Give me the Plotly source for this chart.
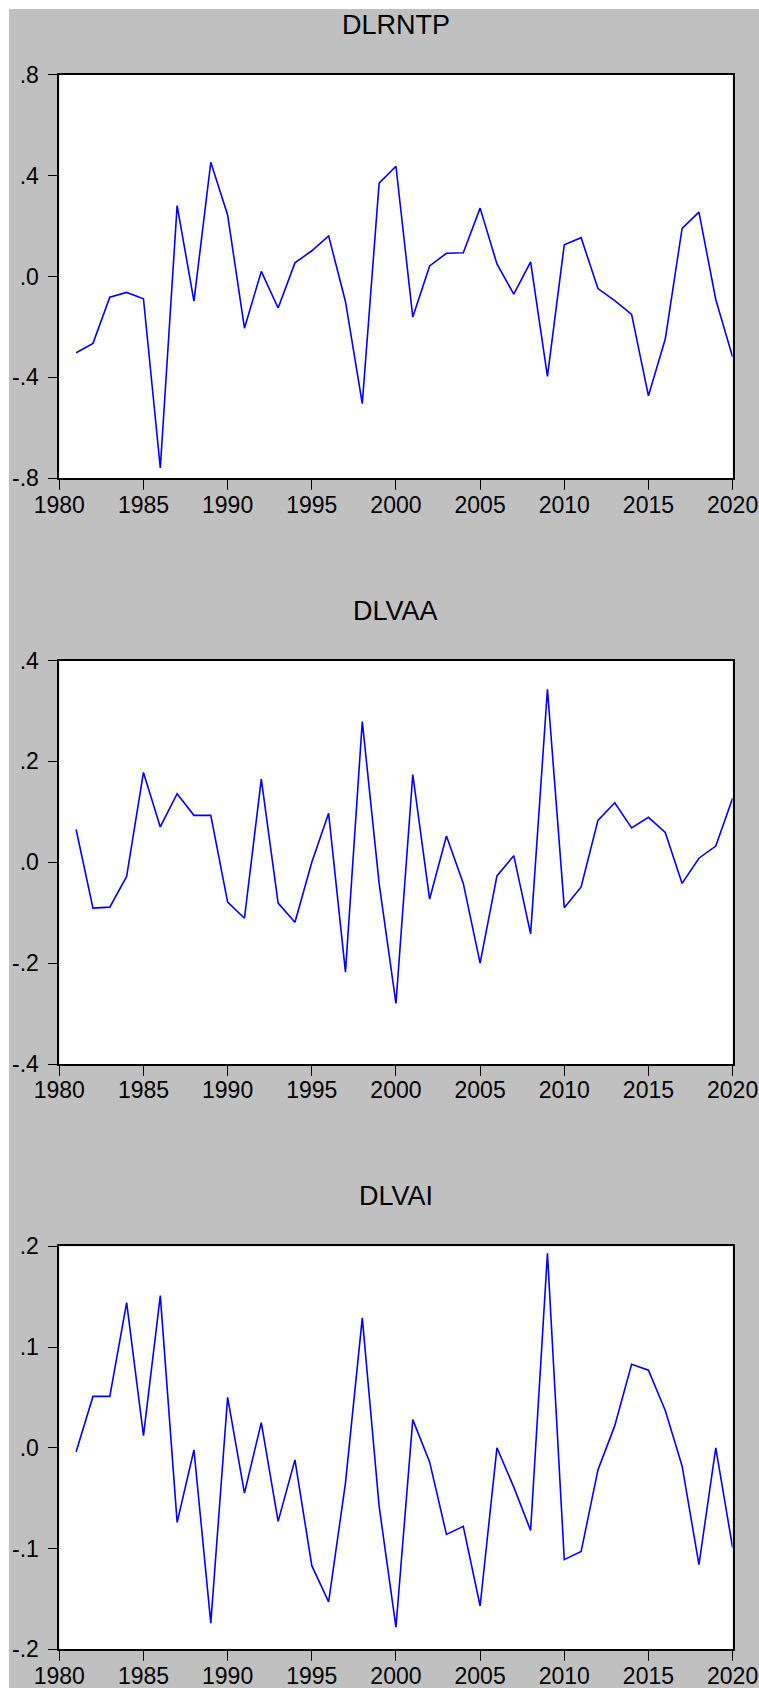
import plotly.graph_objects as go

W, H = 759, 1688

years = list(range(1981, 2021))

dlrntp = [-0.302, -0.265, -0.082, -0.063, -0.088, -0.759, 0.281, -0.098, 0.453, 0.244,
          -0.205, 0.020, -0.125, 0.054, 0.102, 0.161, -0.099, -0.504, 0.370, 0.437,
          -0.161, 0.042, 0.092, 0.094, 0.271, 0.050, -0.070, 0.058, -0.396, 0.126,
          0.154, -0.048, -0.096, -0.150, -0.473, -0.248, 0.191, 0.255, -0.091, -0.319]

dlvaa = [0.065, -0.091, -0.089, -0.028, 0.178, 0.070, 0.136, 0.093, 0.093, -0.079,
         -0.111, 0.165, -0.081, -0.119, 0.000, 0.097, -0.218, 0.279, -0.042, -0.280,
         0.174, -0.073, 0.052, -0.042, -0.200, -0.027, 0.013, -0.142, 0.343, -0.090,
         -0.049, 0.083, 0.118, 0.068, 0.089, 0.059, -0.042, 0.008, 0.032, 0.127]

dlvai = [-0.004, 0.051, 0.051, 0.144, 0.012, 0.151, -0.074, -0.002, -0.174, 0.050,
         -0.045, 0.025, -0.073, -0.012, -0.117, -0.153, -0.035, 0.129, -0.058, -0.178,
         0.028, -0.014, -0.086, -0.078, -0.157, 0.000, -0.039, -0.082, 0.193, -0.111,
         -0.103, -0.022, 0.022, 0.083, 0.077, 0.037, -0.018, -0.116, 0.000, -0.099]

titles = ["DLRNTP", "DLVAA", "DLVAI"]

x_tickvals = [1980, 1985, 1990, 1995, 2000, 2005, 2010, 2015, 2020]
x_ticktext = ["1980", "1985", "1990", "1995", "2000", "2005", "2010", "2015", "2020"]

y1_tickvals = [-0.8, -0.4, 0.0, 0.4, 0.8]
y1_ticktext = ["-.8", "-.4", ".0", ".4", ".8"]
y2_tickvals = [-0.4, -0.2, 0.0, 0.2, 0.4]
y2_ticktext = ["-.4", "-.2", ".0", ".2", ".4"]
y3_tickvals = [-0.2, -0.1, 0.0, 0.1, 0.2]
y3_ticktext = ["-.2", "-.1", ".0", ".1", ".2"]

series = [dlrntp, dlvaa, dlvai]
yticks = [(y1_tickvals, y1_ticktext), (y2_tickvals, y2_ticktext), (y3_tickvals, y3_ticktext)]

# pixel layout (top, bottom) of each plot area
plot_px = [(74.7, 478.3), (660.5, 1064.0), (1246.3, 1649.3)]
left_px, right_px = 59.3, 732.6

FONT = "Liberation Sans, Arial, sans-serif"

fig = go.Figure()
layout = dict(
    template="none",
    width=W, height=H,
    autosize=False,
    margin=dict(l=0, r=0, t=0, b=0, pad=0),
    paper_bgcolor="#c0c0c0",
    plot_bgcolor="#ffffff",
    showlegend=False,
    font=dict(family=FONT, color="#000000"),
)

annotations = []
for i, (vals, (tv, tt), (top, bot), title) in enumerate(zip(series, yticks, plot_px, titles)):
    idx = "" if i == 0 else str(i + 1)
    fig.add_trace(go.Scatter(
        x=years, y=vals, mode="lines",
        line=dict(color="#0000ff", width=1.6),
        xaxis="x" + idx, yaxis="y" + idx, hoverinfo="skip",
    ))
    layout["xaxis" + idx] = dict(
        domain=[left_px / W, right_px / W],
        anchor="y" + idx,
        range=[1980, 2020],
        automargin=False,
        tickvals=x_tickvals, ticktext=x_ticktext,
        ticks="outside", ticklen=10, tickwidth=1, tickcolor="#000000",
        showline=True, linecolor="#000000", linewidth=1.6, mirror=True,
        showgrid=False, zeroline=False,
        tickfont=dict(size=23, family=FONT, color="#000000"),
        ticklabelstandoff=-5,
        fixedrange=True,
    )
    y_lo, y_hi = tv[0], tv[-1]
    layout["yaxis" + idx] = dict(
        domain=[1 - bot / H, 1 - top / H],
        anchor="x" + idx,
        range=[y_lo, y_hi],
        automargin=False,
        tickvals=tv, ticktext=tt,
        ticks="outside", ticklen=10, tickwidth=1, tickcolor="#000000",
        showline=True, linecolor="#000000", linewidth=1.6, mirror=True,
        showgrid=False, zeroline=False,
        tickfont=dict(size=23, family=FONT, color="#000000"),
        ticklabelstandoff=4,
        fixedrange=True,
    )
    annotations.append(dict(
        text=title, xref="paper", yref="paper",
        x=(left_px + right_px) / 2 / W, y=1 - (top - 50) / H,
        xanchor="center", yanchor="middle", showarrow=False,
        font=dict(size=27, family=FONT, color="#000000"),
    ))

layout["annotations"] = annotations
layout["shapes"] = [
    dict(type="rect", xref="paper", yref="paper", x0=0, x1=9 / W, y0=0, y1=1,
         fillcolor="#ffffff", line=dict(width=0), layer="below"),
    dict(type="rect", xref="paper", yref="paper", x0=0, x1=1, y0=1 - 9 / H, y1=1,
         fillcolor="#ffffff", line=dict(width=0), layer="below"),
]
fig.update_layout(**layout)

fig.write_html("out.html", config={"displayModeBar": False})
